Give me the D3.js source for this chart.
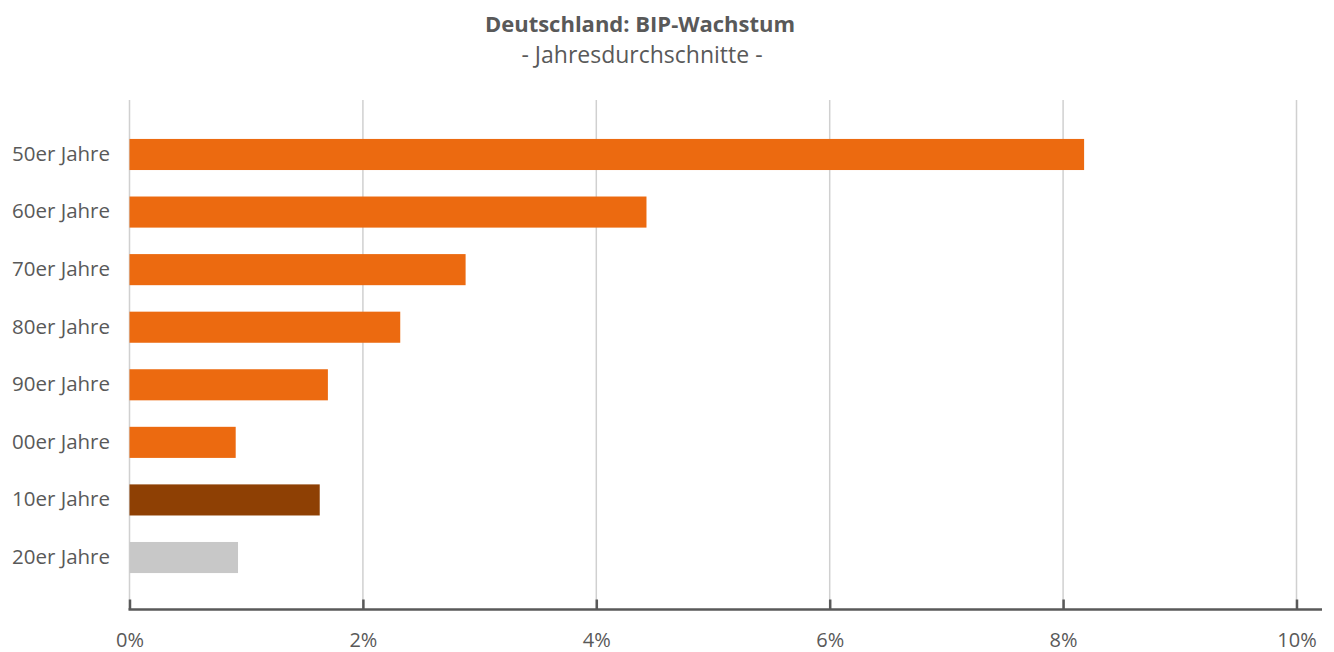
<!DOCTYPE html>
<html><head><meta charset="utf-8">
<script src="https://cdn.jsdelivr.net/npm/d3@7"></script>
<style>
html,body{margin:0;padding:0;background:#fff;}
text{font-family:"Open Sans",sans-serif;fill:#595959;}
</style></head>
<body>
<svg id="c" width="1334" height="652"></svg>
<script>
const categories = ["50er Jahre","60er Jahre","70er Jahre","80er Jahre","90er Jahre","00er Jahre","10er Jahre","20er Jahre"];
const values = [8.18, 4.43, 2.88, 2.32, 1.70, 0.91, 1.63, 0.93];
const barColors = ["#EC6A10","#EC6A10","#EC6A10","#EC6A10","#EC6A10","#EC6A10","#8E4004","#C8C8C8"];
const tickValues = [0,2,4,6,8,10];
const title = "Deutschland: BIP-Wachstum";
const subtitle = "- Jahresdurchschnitte -";

const svg = d3.select("#c");
const plotTop = 100, axisY = 609.5;
const x = d3.scaleLinear().domain([0,10]).range([129.5,1296.5]);
const y = d3.scaleBand().domain(categories).range([125.7, 586.3]).paddingInner(0.46).paddingOuter(0.23);

svg.append("text").attr("x",640).attr("y",32).attr("text-anchor","middle")
  .style("font-weight","bold").style("font-size","22px").text(title);
svg.append("text").attr("x",642).attr("y",63).attr("text-anchor","middle")
  .style("font-size","23px").text(subtitle);

// gridlines
svg.append("g").selectAll("line").data(tickValues).join("line")
  .attr("x1",d=>x(d)).attr("x2",d=>x(d)).attr("y1",plotTop).attr("y2",axisY)
  .attr("stroke","#D0D0D0").attr("stroke-width",1.5);

// bars
svg.append("g").selectAll("rect").data(values).join("rect")
  .attr("x",x(0)).attr("y",(d,i)=>y(categories[i]))
  .attr("width",d=>x(d)-x(0)).attr("height",y.bandwidth())
  .attr("fill",(d,i)=>barColors[i]);

// category labels
svg.append("g").selectAll("text").data(categories).join("text")
  .attr("x",110).attr("y",d=>y(d)+y.bandwidth()/2).attr("dy","0.31em")
  .attr("text-anchor","end").style("font-size","20.5px").text(d=>d);

// x axis
const ax = d3.axisBottom(x).tickValues(tickValues).tickFormat(d=>d+"%").tickSize(0).tickPadding(0);
const g = svg.append("g").attr("transform",`translate(0,${axisY})`).call(ax);
g.select(".domain").remove();
g.append("line").attr("x1",128.5).attr("x2",1322).attr("stroke","#595959").attr("stroke-width",2.5);
g.selectAll(".tick").append("line").attr("y1",0).attr("y2",-10).attr("stroke","#595959").attr("stroke-width",2.5);
g.selectAll(".tick text").attr("y",37).attr("dy",null).style("font-size","20px").style("fill","#595959").style("font-family","'Open Sans',sans-serif");
</script>
</body></html>
